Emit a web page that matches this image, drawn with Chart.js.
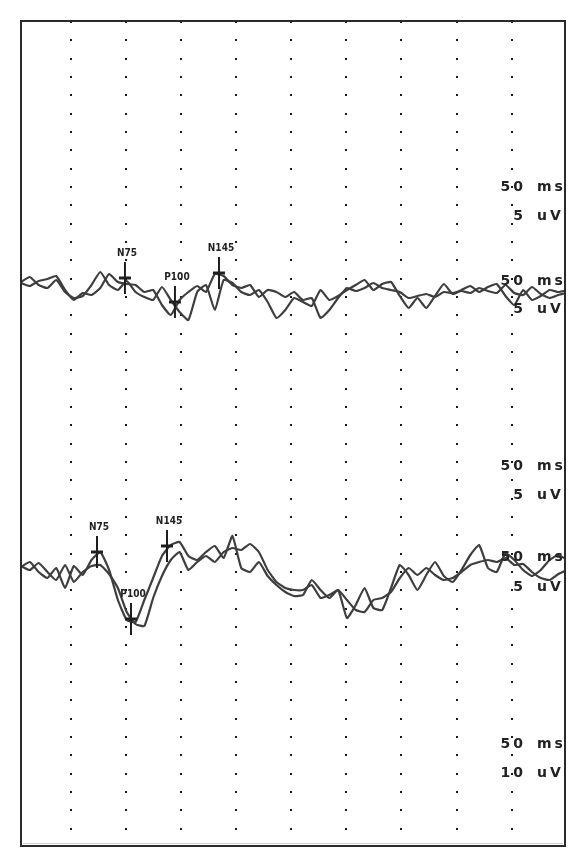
<!DOCTYPE html>
<html>
<head>
<meta charset="utf-8">
<script src="https://cdn.jsdelivr.net/npm/chart.js@4.4.0/dist/chart.umd.min.js"></script>
<style>
  html, body { margin: 0; padding: 0; background: #fff; }
  #wrap { width: 587px; height: 868px; position: relative; }
</style>
</head>
<body>
<div id="wrap"><canvas id="vepChart"></canvas></div>
<script>
// sample times (ms), shared by all four traces
const times = [0, 8, 16, 24, 32, 40, 48, 56, 64, 72, 80, 88, 96, 104, 112, 120, 128, 136, 144, 152,
  160, 168, 176, 184, 192, 200, 208, 216, 224, 232, 240, 248, 256, 264, 272, 280, 288, 296, 304, 312,
  320, 328, 336, 344, 352, 360, 368, 376, 384, 392, 400, 408, 416, 424, 432, 440, 448, 456, 464, 472,
  480, 488, 496];

// upper channel, two runs (uV)
const upperRun1 = [0.2, 1.2, -0.4, -1.0, 0.6, -1.8, -3.0, -2.6, -0.4, 2.2,
  -0.4, -1.4, 0.4, -1.8, -2.8, -3.4, -0.8, -3.4, -5.8, -7.4,
  -1.8, -0.4, -5.4, 0.6, 0, -1.8, -2.4, -1.4, -3.8, -7.0,
  -5.4, -3.0, -3.8, -4.6, -1.4, -3.4, -2.6, -1.4, -0.4, 0.6,
  -1.4, -0.2, 0.2, -2.6, -5.0, -3.0, -5.0, -2.6, -0.2, -2.2,
  -1.4, -0.6, -1.8, -0.8, -0.2, -2.6, -4.4, -1.4, -3.4, -2.6,
  -1.4, -1.8, -1.4];
const upperRun2 = [0, -0.6, 0.4, 0.8, 1.4, -1.4, -3.4, -2.0, -2.4, -1.0,
  1.8, 0.2, -0.2, -0.4, -1.8, -1.4, -4.4, -6.4, -3.4, -1.8,
  -0.6, -1.8, 1.8, 1.4, -0.4, -1.0, -0.4, -2.8, -1.4, -1.8,
  -2.8, -1.8, -3.4, -3.0, -7.0, -5.4, -3.0, -1.0, -1.6, -1.0,
  0, -1.0, -1.4, -1.8, -3.0, -2.6, -2.2, -2.8, -1.8, -2.0,
  -1.6, -2.0, -1.0, -1.6, -2.0, -0.4, -2.0, -2.4, -0.8, -2.2,
  -3.0, -2.4, -2.0];

// lower channel, two runs (uV)
const lowerRun1 = [0.2, 1.2, -0.8, -2.0, 0, -4.0, 0.4, -1.4, 1.6, 3.2,
  -0.4, -6.4, -10.4, -10.8, -6.4, -2.0, 2.4, 4.6, 5.2, 2.4,
  1.6, 3.2, 4.4, 2.0, 6.4, 0, -0.8, 1.2, -1.6, -3.4,
  -4.8, -5.6, -5.4, -2.4, -4.4, -6.0, -4.4, -10.0, -7.4, -4.0,
  -8.0, -8.4, -4.0, 0.6, -1.4, -4.4, -1.4, 1.2, -1.6, -2.8,
  -0.4, 2.6, 4.6, 0, -0.8, 3.0, 1.6, -0.4, -1.6, -0.4,
  1.6, 2.6, 1.6];
const lowerRun2 = [0.4, -0.4, 1.0, -0.8, -2.4, 0.6, -2.8, -0.8, 0.4, 0.6,
  -1.2, -4.0, -8.8, -11.2, -11.6, -6.0, -1.6, 1.6, 3.2, -0.4,
  1.2, 2.4, 1.2, 3.2, 4.0, 3.6, 4.8, 3.2, -0.4, -2.8,
  -4.0, -4.4, -4.4, -3.4, -6.0, -5.4, -4.4, -6.4, -8.4, -8.8,
  -6.4, -6.0, -4.8, -2.0, 0, -1.4, 0, -1.4, -2.4, -2.0,
  -0.8, 0.6, 1.2, 1.6, 1.2, 2.0, 0.6, 0.8, -0.8, -2.0,
  -2.4, -1.2, -0.4];

// baseline of each channel on the shared vertical axis (uV below top edge)
const upperBase = -52.4;
const lowerBase = -109.4;

// peak markers
const peakNames = ['N75', 'P100', 'N145'];
const upperPeakTimes = [94.4, 139.8, 179.8];
const upperPeakValues = [1.0, -3.8, 2.0];
const lowerPeakTimes = [69, 99.9, 132.6];
const lowerPeakValues = [3.2, -10.2, 4.4];

// calibration notes on the right side
const calibLabels = ['50 ms', '5 uV', '50 ms', '5 uV', '50 ms', '5 uV', '50 ms', '5 uV', '50 ms', '10 uV'];
const calibLevels = [-33.2, -39, -52, -57.6, -89, -94.8, -107.2, -113.2, -144.6, -150.4];

// dotted grid
const gridCols = [45.5, 95.5, 145.5, 195.5, 245.5, 295.5, 345.5, 395.5, 445.5];
const rowCount = 45;
const yMin = -165;

const traceColor = '#3e3e3e';

function series(vals, base) {
  return times.map((t, i) => ({ x: t, y: vals[i] + base }));
}
function peaks(ts, vs, base) {
  return ts.map((t, i) => ({ x: t, y: vs[i] + base, name: peakNames[i] }));
}

const upperPeaks = peaks(upperPeakTimes, upperPeakValues, upperBase);
const lowerPeaks = peaks(lowerPeakTimes, lowerPeakValues, lowerBase);

function traceSet(data) {
  return { data, borderColor: traceColor, borderWidth: 2.2, pointRadius: 0, tension: 0.15, order: 2 };
}
function markSet(data, rot, r, w) {
  return {
    data, showLine: false, order: 0,
    pointStyle: 'line', pointRotation: rot, pointRadius: r,
    borderColor: '#1e1e1e', borderWidth: w, backgroundColor: '#1e1e1e'
  };
}

const vepDecor = {
  id: 'vepDecor',
  beforeDatasetsDraw(chart) {
    const { ctx, scales: { x, y } } = chart;
    ctx.save();
    ctx.fillStyle = '#1a1a1a';
    const step = -yMin / rowCount;
    gridCols.forEach(t => {
      const px = Math.round(x.getPixelForValue(t));
      for (let i = 0; i < rowCount; i++) {
        const py = Math.round(y.getPixelForValue(-i * step));
        ctx.fillRect(px - 1, py, 2, 2);
      }
    });
    ctx.restore();
  },
  afterDatasetsDraw(chart) {
    const { ctx, chartArea: a, scales: { x, y } } = chart;
    ctx.save();

    // peak names above the markers
    ctx.fillStyle = '#222';
    ctx.font = 'bold 10px "Liberation Sans Narrow", "DejaVu Sans Condensed", sans-serif';
    ctx.textAlign = 'center';
    ctx.textBaseline = 'middle';
    upperPeaks.concat(lowerPeaks).forEach(p => {
      ctx.fillText(p.name, x.getPixelForValue(p.x) + 2, y.getPixelForValue(p.y) - 25);
    });

    // calibration text
    ctx.fillStyle = '#222';
    ctx.font = 'bold 14px "DejaVu Sans", sans-serif';
    ctx.letterSpacing = '3px';
    calibLabels.forEach((txt, i) => {
      const [num, unit] = txt.split(' ');
      const py = y.getPixelForValue(calibLevels[i]);
      ctx.textAlign = 'right';
      ctx.fillText(num, a.right - 39, py);
      ctx.textAlign = 'left';
      ctx.fillText(unit, a.right - 28, py);
    });
    ctx.letterSpacing = '0px';

    // frame
    ctx.strokeStyle = '#d0d0d0';
    ctx.lineWidth = 1;
    ctx.beginPath();
    ctx.moveTo(a.left + 2, a.bottom - 2.5);
    ctx.lineTo(a.right - 2, a.bottom - 2.5);
    ctx.stroke();
    ctx.strokeStyle = '#2a2a2a';
    ctx.lineWidth = 2;
    ctx.strokeRect(a.left, a.top, a.right - a.left, a.bottom - a.top);
    ctx.restore();
  }
};

new Chart(document.getElementById('vepChart').getContext('2d'), {
  type: 'line',
  data: {
    datasets: [
      markSet(upperPeaks, 90, 16, 2),
      markSet(upperPeaks, 0, 6, 3),
      markSet(lowerPeaks, 90, 16, 2),
      markSet(lowerPeaks, 0, 6, 3),
      traceSet(series(upperRun1, upperBase)),
      traceSet(series(upperRun2, upperBase)),
      traceSet(series(lowerRun1, lowerBase)),
      traceSet(series(lowerRun2, lowerBase))
    ]
  },
  options: {
    responsive: true,
    maintainAspectRatio: false,
    animation: false,
    layout: { padding: { left: 21, top: 21, right: 22, bottom: 22 } },
    scales: {
      x: { type: 'linear', display: false, min: 0, max: 494 },
      y: { type: 'linear', display: false, min: yMin, max: 0 }
    },
    plugins: { legend: { display: false }, tooltip: { enabled: false } }
  },
  plugins: [vepDecor]
});
</script>
</body>
</html>
